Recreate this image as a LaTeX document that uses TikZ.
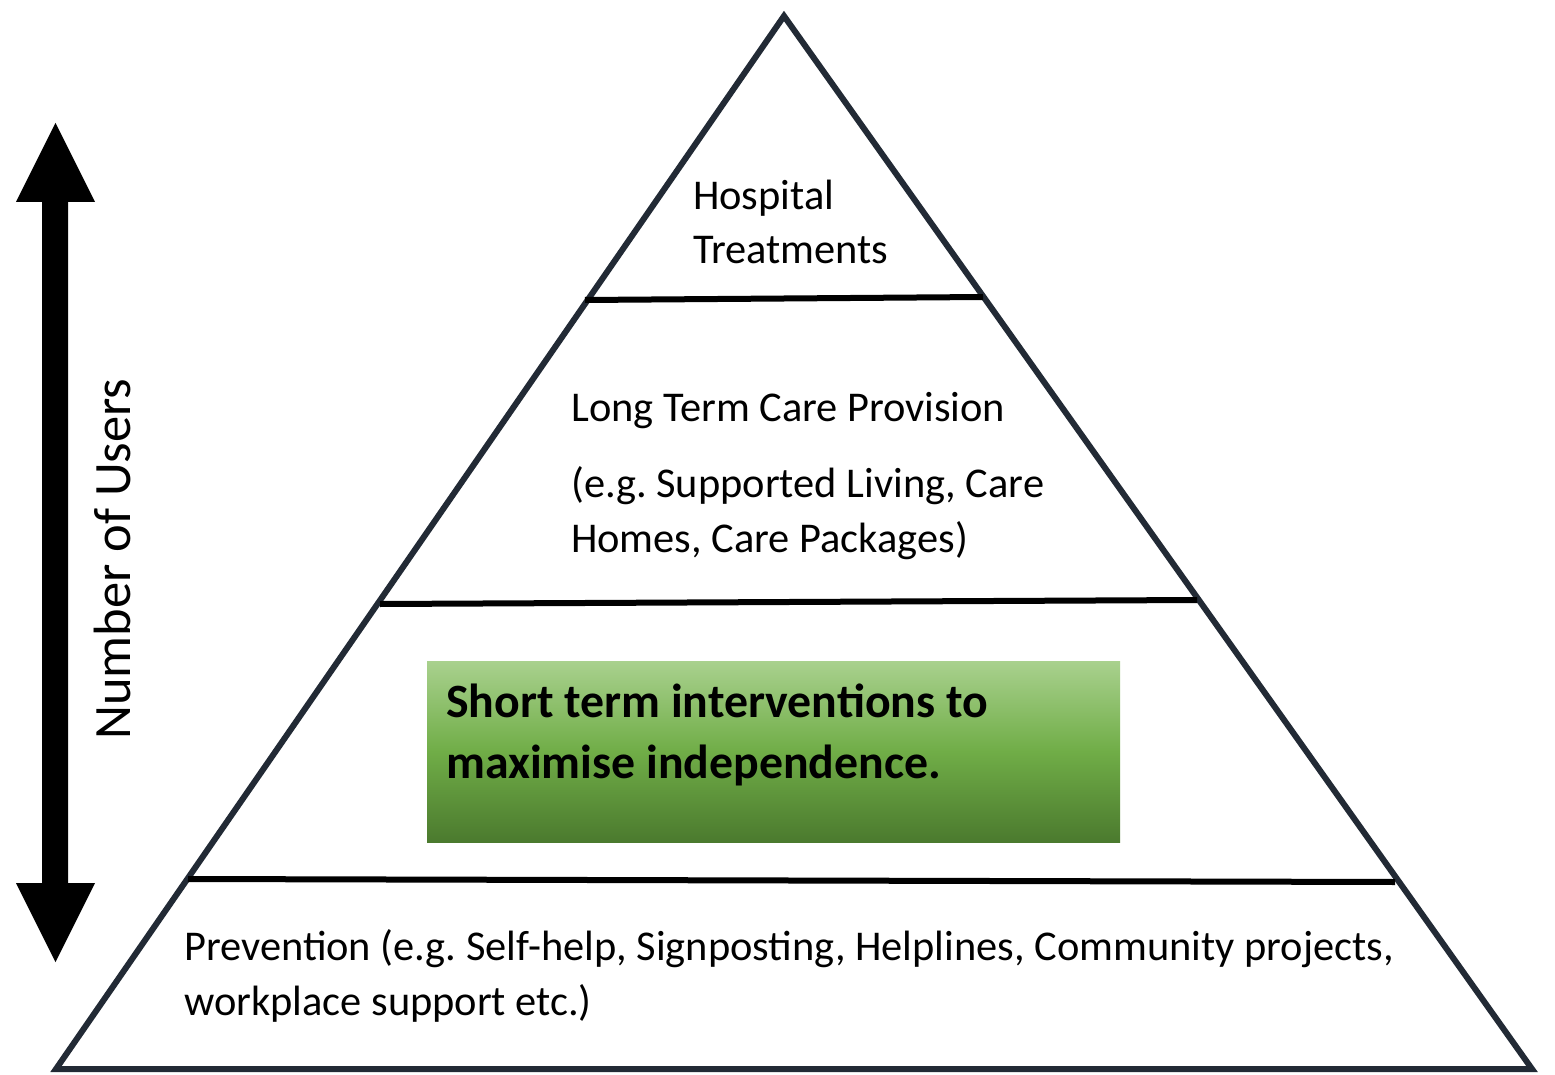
\documentclass[tikz,border=0pt]{standalone}
\usepackage{fontspec}
\setmainfont{Carlito}
\frenchspacing
\begin{document}
\begin{tikzpicture}[x=1pt,y=-1pt,
  edge/.style={draw=pyrEdge,line width=6pt,line join=miter},
  tier/.style={draw=black,line width=6pt},
  label/.style={anchor=base west,inner sep=0pt,font=\fontsize{42.4}{50}\selectfont},
  sidelabel/.style={anchor=base west,inner sep=0pt,font=\fontsize{52.5}{60}\selectfont},
  boldlabel/.style={anchor=base west,inner sep=0pt,font=\fontsize{47.8}{56}\selectfont\bfseries}]
\definecolor{pyrEdge}{HTML}{222A35}
\definecolor{greenTop}{HTML}{A9D18E}
\definecolor{greenMid}{HTML}{70AD47}
\definecolor{greenBot}{HTML}{4B7A2E}
\useasboundingbox (0,0) rectangle (1555,1075);
\fill[white] (0,0) rectangle (1555,1075);

% pyramid outline
\coordinate (apex) at (784,16);
\coordinate (bl) at (56,1069);
\coordinate (br) at (1532,1069);
\draw[edge] (apex) -- (bl) -- (br) -- cycle;

% tier dividers
\coordinate (d1l) at (585,300); \coordinate (d1r) at (983,297);
\coordinate (d2l) at (380,604); \coordinate (d2r) at (1197,600);
\coordinate (d3l) at (188,879); \coordinate (d3r) at (1395,882);
\draw[tier] (d1l) -- (d1r);
\draw[tier] (d2l) -- (d2r);
\draw[tier] (d3l) -- (d3r);

% double-headed arrow
\fill[black] (55.5,123) -- (95,202) -- (68,202) -- (68,883) -- (95,883)
  -- (55.5,962) -- (16,883) -- (42,883) -- (42,202) -- (16,202) -- cycle;
\node[sidelabel,rotate=90] (users) at (130,740) {Number of Users};

% green box
\node[draw=none,inner sep=0pt,minimum width=693pt,minimum height=181pt,
  top color=greenTop,bottom color=greenBot,middle color=greenMid] (box) at (773.5,751.5) {};

% texts
\node[label] (hosp) at (693,210) {Hospital};
\node[label] (treat) at (693,264) {Treatments};
\node[label] (ltc) at (571,421) {Long Term Care Provision};
\node[label] (eg1) at (571,497) {(e.g. Supported Living, Care};
\node[label] (eg2) at (571,552) {Homes, Care Packages)};
\node[boldlabel] (st1) at (446,717) {Short term interventions to};
\node[boldlabel] (st2) at (446,778) {maximise independence.};
\node[label] (prev1) at (184,960) {Prevention (e.g. Self-help, Signposting, Helplines, Community projects,};
\node[label] (prev2) at (184,1015) {workplace support etc.)};
\end{tikzpicture}
\end{document}
